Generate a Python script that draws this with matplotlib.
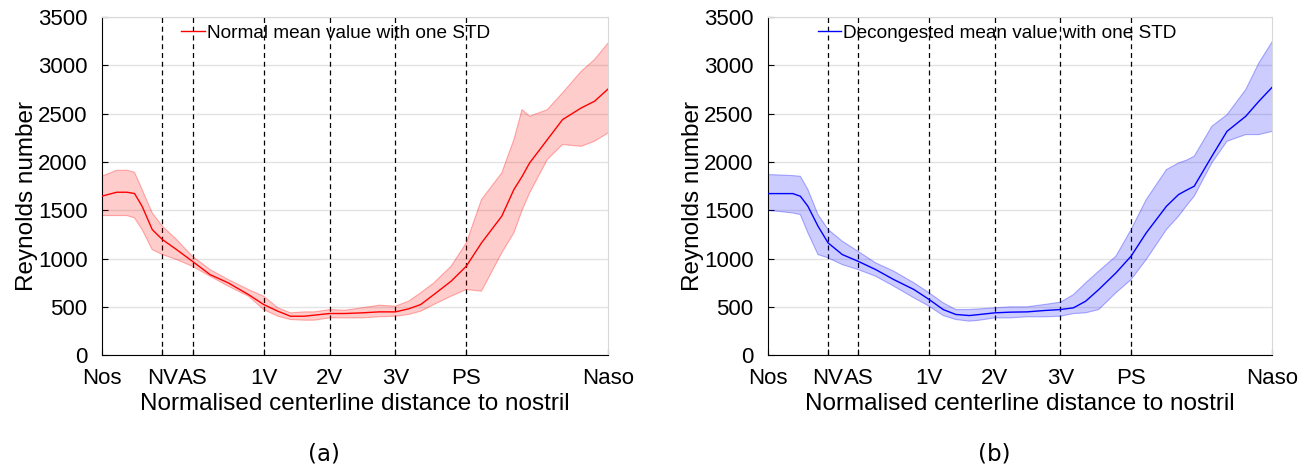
"""Reynolds number along the nasal centerline: normal vs decongested"""
import matplotlib
matplotlib.use("Agg")
import matplotlib.pyplot as plt

plt.rcParams["font.family"] = ["Liberation Sans", "DejaVu Sans"]

# Normalised centerline positions of the samples
x = [0.0, 0.03, 0.05, 0.065, 0.08, 0.1, 0.12, 0.148, 0.179, 0.214, 0.25, 0.29,
     0.32, 0.348, 0.373, 0.4, 0.42, 0.45, 0.48, 0.514, 0.548, 0.58, 0.606,
     0.63, 0.656, 0.69, 0.72, 0.75, 0.79, 0.814, 0.83, 0.845, 0.88, 0.91,
     0.947, 0.973, 1.0]

normal_mean = [1647, 1688, 1688, 1675, 1543, 1302, 1199, 1095, 975, 837, 751, 630,
               527, 458, 406, 406, 417, 434, 434, 441, 451, 451, 482,
               527, 630, 768, 923, 1164, 1440, 1716, 1850, 1991, 2232, 2439,
               2560, 2628, 2756]
normal_upper = [1853, 1915, 1915, 1895, 1716, 1474, 1337, 1199, 1027, 889, 785, 682,
                613, 493, 441, 451, 451, 475, 468, 493, 520, 510, 561,
                648, 751, 923, 1164, 1612, 1888, 2232, 2542, 2473, 2542, 2715,
                2939, 3059, 3231]
normal_lower = [1447, 1447, 1447, 1423, 1302, 1095, 1044, 992, 923, 820, 717, 613,
                475, 406, 372, 365, 365, 389, 389, 389, 400, 406, 424,
                458, 527, 613, 682, 665, 1061, 1268, 1500, 1681, 2026, 2181,
                2163, 2215, 2301]

decon_mean = [1674, 1674, 1674, 1647, 1543, 1337, 1164, 1044, 975, 889, 785, 682,
              579, 475, 424, 413, 424, 441, 448, 451, 465, 475, 493,
              561, 682, 854, 1027, 1268, 1543, 1664, 1710, 1750, 2060, 2318,
              2473, 2628, 2777]
decon_upper = [1871, 1865, 1860, 1853, 1716, 1457, 1302, 1182, 1078, 958, 872, 751,
               648, 544, 475, 475, 482, 493, 503, 503, 527, 551, 630,
               751, 872, 1027, 1302, 1612, 1922, 1991, 2020, 2060, 2370, 2490,
               2749, 3024, 3249]
decon_lower = [1502, 1485, 1474, 1457, 1268, 1044, 1009, 940, 889, 820, 717, 596,
               510, 413, 372, 355, 365, 389, 389, 400, 400, 406, 434,
               441, 475, 648, 785, 992, 1302, 1440, 1550, 1647, 1991, 2215,
               2284, 2284, 2318]

tick_pos = [0.0, 0.12, 0.18, 0.32, 0.45, 0.58, 0.72, 1.0]
tick_labels = ["Nos", "NV", "AS", "1V", "2V", "3V", "PS", "Naso"]
landmarks = tick_pos[1:-1]


def draw(ax, mean, lower, upper, color, label, legend_x):
    """Один график со средним и полосой STD"""
    for xv in landmarks:
        ax.axvline(xv, color="black", linestyle=(0, (4, 3)), linewidth=0.9, zorder=1)
    ax.fill_between(x, lower, upper, facecolor=color, alpha=0.2, edgecolor="none", zorder=2)
    ax.plot(x, lower, color=color, alpha=0.3, linewidth=0.8, zorder=2)
    ax.plot(x, upper, color=color, alpha=0.3, linewidth=0.8, zorder=2)
    ax.plot(x, mean, color=color, linewidth=1.0, label=label, zorder=3)

    ax.set_xlim(0, 1)
    ax.set_ylim(0, 3500)
    ax.set_yticks(range(0, 3501, 500))
    ax.set_xticks(tick_pos)
    ax.set_xticklabels(tick_labels)
    ax.grid(axis="y", color="#e3e3e3", linewidth=1.0, zorder=0)
    ax.set_axisbelow(True)
    ax.tick_params(axis="both", direction="in", labelsize=16, length=4)
    ax.tick_params(axis="x", pad=9)
    ax.tick_params(axis="y", pad=10)
    for side in ("top", "right"):
        ax.spines[side].set_color("#d8d8d8")
    ax.set_xlabel("Normalised centerline distance to nostril", fontsize=17.5, labelpad=3)
    ax.set_ylabel("Reynolds number", fontsize=17.5, labelpad=4)
    ax.yaxis.set_label_coords(-0.125, 0.47)
    ax.legend(loc="upper left", bbox_to_anchor=(legend_x, 1.0), frameon=False,
              fontsize=13.7, handlelength=1.25, handletextpad=0.1, borderaxespad=0.0)


fig = plt.figure(figsize=(13.14, 4.68), dpi=100)
ax1 = fig.add_axes([0.0773, 0.2404, 0.3855, 0.7233])
ax2 = fig.add_axes([0.5841, 0.2404, 0.3843, 0.7233])

draw(ax1, normal_mean, normal_lower, normal_upper, "red",
     "Normal mean value with one STD", 0.142)
draw(ax2, decon_mean, decon_lower, decon_upper, "blue",
     "Decongested mean value with one STD", 0.084)

fig.text(0.2466, 0.03, "(a)", fontsize=16.5, family="DejaVu Sans", ha="center", va="center")
fig.text(0.757, 0.03, "(b)", fontsize=16.5, family="DejaVu Sans", ha="center", va="center")

fig.savefig("out.png", dpi=100)
